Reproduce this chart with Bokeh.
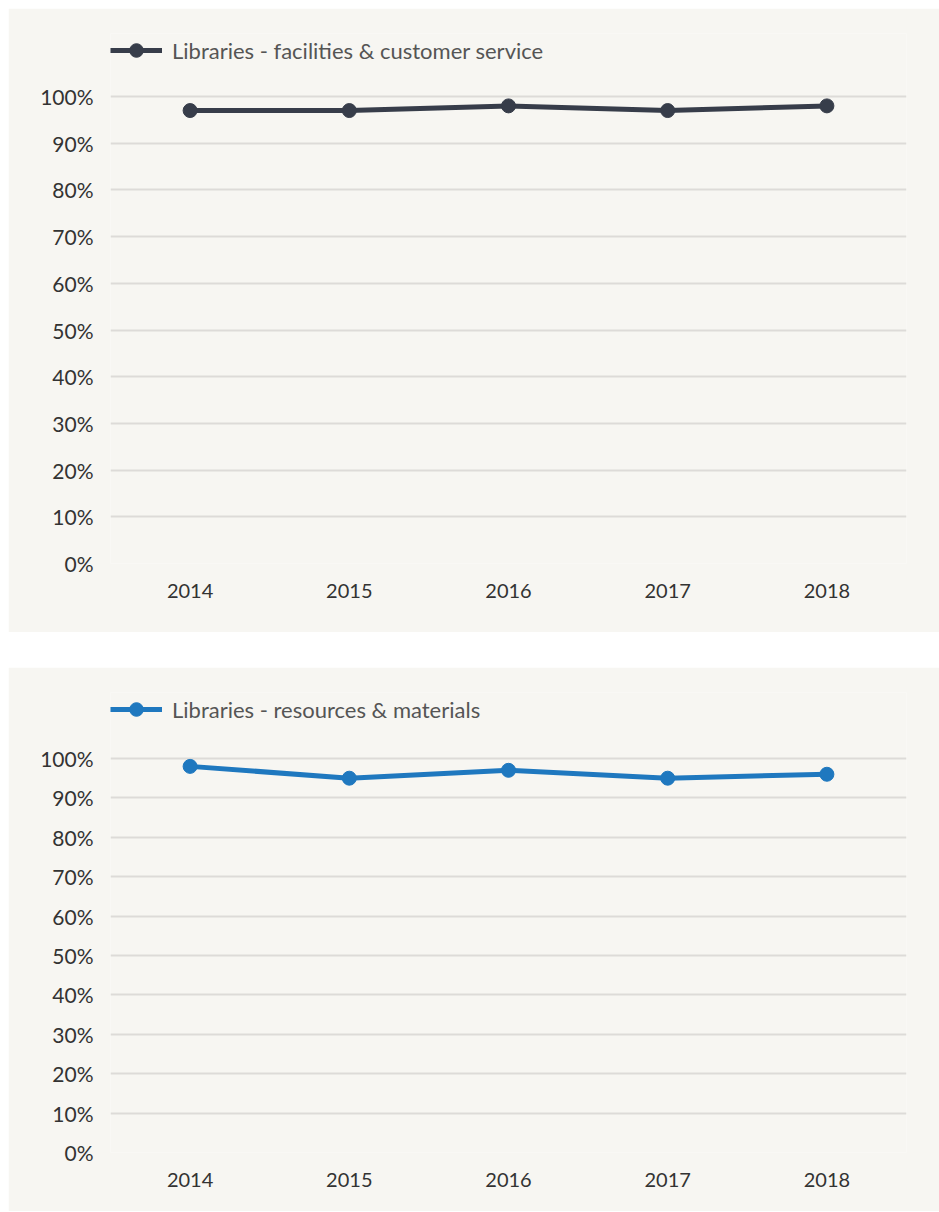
from bokeh.plotting import figure
from bokeh.models import (Range1d, FactorRange, FixedTicker, PrintfTickFormatter,
                          Legend, LegendItem, ColumnDataSource)
from bokeh.layouts import column
from bokeh.embed import file_html
from bokeh.resources import INLINE

years = ["2014", "2015", "2016", "2017", "2018"]
facilities = [97, 97, 98, 97, 98]
resources = [98, 95, 97, 95, 96]
y_ticks = [0, 10, 20, 30, 40, 50, 60, 70, 80, 90, 100]

BG = "#f7f6f2"
FONT = "Lato"


def make_panel(values, label, color, height, y_end, border_bottom):
    src = ColumnDataSource(dict(x=years, y=values))
    p = figure(width=931, height=height, x_range=FactorRange(*years),
               y_range=Range1d(0, y_end), output_backend="svg",
               toolbar_location=None, background_fill_color=BG,
               border_fill_color=BG, min_border_left=102, min_border_right=33,
               min_border_top=25, min_border_bottom=border_bottom)
    p.outline_line_color = None
    p.xgrid.grid_line_color = None
    p.ygrid.grid_line_color = "#dddbd8"
    p.ygrid.grid_line_width = 2
    p.yaxis.ticker = FixedTicker(ticks=y_ticks)
    p.yaxis.formatter = PrintfTickFormatter(format="%d%%")
    for ax in (p.xaxis[0], p.yaxis[0]):
        ax.axis_line_color = None
        ax.major_tick_line_color = None
        ax.minor_tick_line_color = None
        ax.major_tick_out = 0
        ax.major_tick_in = 0
        ax.major_label_text_font = FONT
        ax.major_label_text_color = "#333333"
    p.yaxis.major_label_text_font_size = "21px"
    p.xaxis.major_label_text_font_size = "20px"
    p.yaxis.major_label_standoff = 17
    p.xaxis.major_label_standoff = 20

    ln = p.line("x", "y", source=src, line_color=color, line_width=5)
    cr = p.scatter("x", "y", source=src, size=14, fill_color=color,
                   line_color=color)
    legend = Legend(items=[LegendItem(label=label, renderers=[ln, cr])],
                    location="top_left", margin=0, padding=0,
                    border_line_color=None, background_fill_alpha=0,
                    glyph_width=52, glyph_height=34, label_height=34,
                    label_standoff=10, label_text_font=FONT,
                    label_text_font_size="22px", label_text_color="#555555")
    p.add_layout(legend)
    return p


p1 = make_panel(facilities, "Libraries - facilities & customer service",
                "#373d4a", 624, 113.5, 69)
p2 = make_panel(resources, "Libraries - resources & materials",
                "#1f78bf", 544, 116.75, 59)

layout = column(p1, p2, spacing=35, margin=(8, 0, 0, 8))
open("out.html", "w").write(file_html(layout, INLINE))
